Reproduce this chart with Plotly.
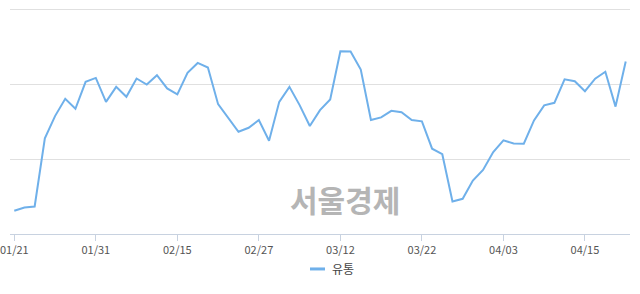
import plotly.graph_objects as go

dates = [
    "01/21", "01/22", "01/23", "01/24", "01/25", "01/28", "01/29", "01/30", "01/31",
    "02/01", "02/07", "02/08", "02/11", "02/12", "02/13", "02/14", "02/15",
    "02/18", "02/19", "02/20", "02/21", "02/22", "02/25", "02/26", "02/27", "02/28",
    "03/04", "03/05", "03/06", "03/07", "03/08", "03/11", "03/12", "03/13", "03/14", "03/15",
    "03/18", "03/19", "03/20", "03/21", "03/22", "03/25", "03/26", "03/27", "03/28", "03/29",
    "04/01", "04/02", "04/03", "04/04", "04/05", "04/08", "04/09", "04/10", "04/11", "04/12",
    "04/15", "04/16", "04/17", "04/18", "04/19",
]
values = [
    31.1, 35.5, 36.8, 128.0, 157.7, 180.8, 167.5, 203.5, 208.8,
    176.8, 196.8, 183.5, 208.0, 200.0, 212.4, 194.7, 186.7,
    215.5, 228.8, 222.7, 173.7, 156.0, 136.8, 142.1, 152.4, 124.8,
    176.8, 196.8, 172.4, 144.4, 165.7, 180.0, 244.4, 244.0, 220.0, 152.4,
    156.0, 164.8, 163.0, 152.4, 150.7, 114.1, 106.7, 43.5, 47.1, 71.5,
    85.7, 109.7, 125.3, 121.0, 120.7, 152.0, 172.1, 175.5, 207.0, 204.4,
    191.0, 207.7, 217.0, 170.4, 230.8,
]
tick_labels = ["01/21", "01/31", "02/15", "02/27", "03/12", "03/22", "04/03", "04/15"]
grid_values = [100, 200, 300]
series_name = "유통"
watermark = "서울경제"

W, H = 640, 294
ML, MR, MT, MB = 10, 10, 5.75, 60
pw, ph = W - ML - MR, H - MT - MB

def px(xpix):
    return (xpix - ML) / pw

def py(ypix):
    return (H - MB - ypix) / ph

line_color = "#6fb0ea"

fig = go.Figure()
fig.add_trace(go.Scatter(
    x=list(range(len(dates))), y=values, mode="lines", name=series_name,
    line=dict(color=line_color, width=2), showlegend=False,
    customdata=dates, hovertemplate="%{customdata}: %{y}<extra></extra>",
))

tickvals = [dates.index(t) for t in tick_labels]

fig.update_layout(
    width=W, height=H,
    margin=dict(l=ML, r=MR, t=MT, b=MB, autoexpand=False),
    paper_bgcolor="white", plot_bgcolor="white",
    font=dict(family="Noto Sans CJK KR, DejaVu Sans", color="#555555"),
    xaxis=dict(
        range=[-0.42, len(dates) - 1 + 0.42],
        tickmode="array", tickvals=tickvals, ticktext=tick_labels,
        showgrid=False, zeroline=False,
        showline=True, linecolor="#c8d2e0", linewidth=1,
        ticks="outside", ticklen=6, tickcolor="#c8d2e0", tickwidth=1,
        tickfont=dict(size=11, color="#555555"),
        ticklabeloverflow="allow", automargin=False,
    ),
    yaxis=dict(
        range=[0, 305], tickvals=grid_values, showticklabels=False,
        showgrid=True, gridcolor="#e0e0e0", gridwidth=1,
        zeroline=False, showline=False, automargin=False,
    ),
    showlegend=False,
)

# watermark
fig.add_annotation(
    text="<b>" + watermark + "</b>", xref="paper", yref="paper", x=px(345), y=py(199),
    xanchor="center", yanchor="middle", showarrow=False,
    font=dict(size=30, color="#b5b5b5", family="Noto Sans CJK KR"),
)

# legend (manual)
fig.add_shape(type="line", xref="paper", yref="paper",
              x0=px(310), x1=px(325), y0=py(269), y1=py(269),
              line=dict(color=line_color, width=3))
fig.add_annotation(
    text=series_name, xref="paper", yref="paper", x=px(330), y=py(269),
    xanchor="left", yanchor="middle", showarrow=False,
    font=dict(size=12, color="#444444", family="Noto Sans CJK KR"),
)

fig.write_html("out.html")
